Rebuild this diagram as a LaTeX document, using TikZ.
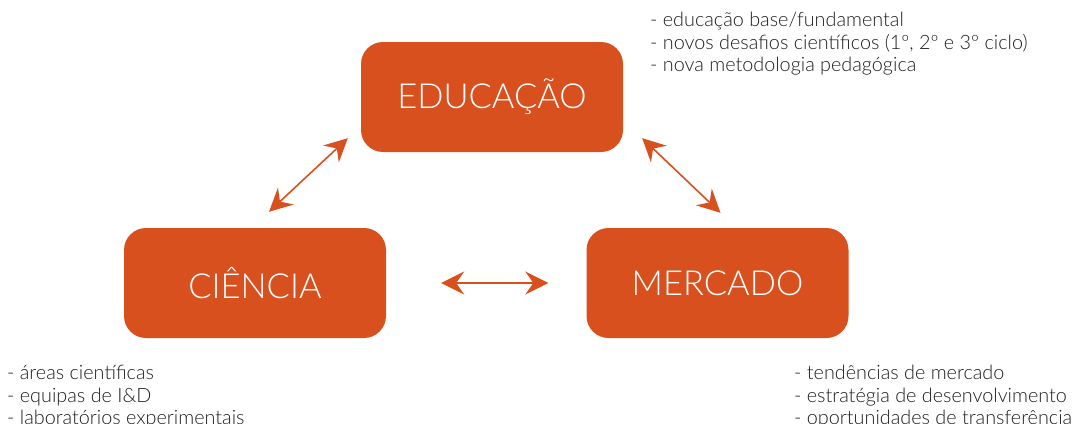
\documentclass[tikz,border=0pt]{standalone}
\usepackage{fontspec}
\setmainfont{Lato}[UprightFont=* Light]
\usetikzlibrary{arrows.meta,positioning}
\definecolor{laranja}{HTML}{D9501F}
\definecolor{texto}{HTML}{1E1E1E}

\begin{document}
\begin{tikzpicture}[x=1pt,y=-1pt,>={Stealth[length=23pt,width=23pt,inset=8pt]},
    caixa/.style={fill=laranja,rounded corners=22pt,minimum width=262pt,minimum height=110pt,
        text=white,font=\fontsize{34.5}{34.5}\selectfont},
    lista/.style={anchor=north west,align=left,inner sep=0pt,text=texto,
        font=\fontsize{19.8}{22.5}\selectfont},
    seta/.style={<->,laranja,line width=1.6pt}]

    \useasboundingbox (0,0) rectangle (1083,423);

    % Boxes
    \node [caixa] (edu) at (492,97) {EDUCAÇÃO};
    \node [caixa] (cie) at (255,283) {CIÊNCIA};
    \node [caixa] (mer) at (717.5,283) {MERCADO};

    % Lists
    \node [lista] (edulista) at (650,12) {- educação base/fundamental\\- novos desafios científicos (1º, 2º e 3º ciclo)\\- nova metodologia pedagógica};
    \node [lista] (cielista) at (7,365) {- áreas científicas\\- equipas de I\&D\\- laboratórios experimentais};
    \node [lista] (merlista) at (794,365) {- tendências de mercado\\- estratégia de desenvolvimento\\- oportunidades de transferência};

    % Arrows
    \draw [seta] ([shift={(14,-16)}]cie.north) -- ([shift={(-13,-14)}]edu.south west);
    \draw [seta] ([shift={(19,-14)}]edu.south east) -- ([shift={(3,-15)}]mer.north);
    \draw [seta] ([xshift=55pt]cie.east) -- ([xshift=-38pt]mer.west);

\end{tikzpicture}
\end{document}
